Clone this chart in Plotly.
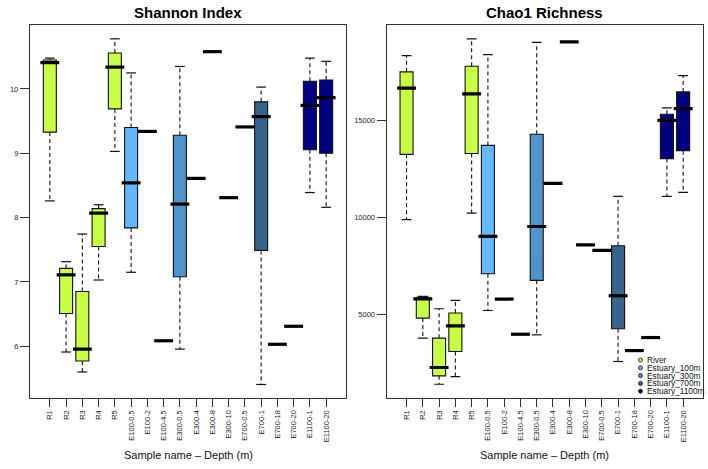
import plotly.graph_objects as go

# ---------------- data ----------------
samples = ["R1", "R2", "R3", "R4", "R5",
           "E100-0.5", "E100-2", "E100-4.5",
           "E300-0.5", "E300-4", "E300-8", "E300-10",
           "E700-0.5", "E700-1", "E700-18", "E700-20",
           "E1100-1", "E1100-20"]
groups = ["River"] * 5 + ["Estuary_100m"] * 3 + ["Estuary_300m"] * 4 + \
         ["Estuary_700m"] * 4 + ["Estuary_1100m"] * 2

group_names = ["River", "Estuary_100m", "Estuary_300m", "Estuary_700m", "Estuary_1100m"]
group_colors = ["#C8FF44", "#63B8FF", "#4F94CD", "#36648B", "#000080"]

# Shannon index: lower whisker, Q1, median, Q3, upper whisker
sh_low = [8.26, 5.91, 5.60, 7.03, 9.03, 7.15, 9.34, 6.085, 5.955, 8.61, 10.58, 8.31,
          9.41, 5.405, 6.03, 6.31, 8.39, 8.16]
sh_q1 = [9.33, 6.51, 5.77, 7.55, 9.69, 7.84, 9.34, 6.085, 7.08, 8.61, 10.58, 8.31,
         9.41, 7.49, 6.03, 6.31, 9.055, 9.00]
sh_med = [10.41, 7.11, 5.955, 8.07, 10.34, 8.54, 9.34, 6.085, 8.21, 8.61, 10.58, 8.31,
          9.41, 9.57, 6.03, 6.31, 9.745, 9.865]
sh_q3 = [10.45, 7.21, 6.85, 8.14, 10.56, 9.40, 9.34, 6.085, 9.28, 8.61, 10.58, 8.31,
         9.41, 9.80, 6.03, 6.31, 10.12, 10.14]
sh_up = [10.48, 7.315, 7.745, 8.20, 10.78, 10.25, 9.34, 6.085, 10.35, 8.61, 10.58, 8.31,
         9.41, 10.03, 6.03, 6.31, 10.48, 10.43]

# Chao1 richness
ch_low = [9890, 3800, 1430, 1820, 10230, 5220, 5810, 4000, 3970, 11760, 19035, 8590,
          8310, 2600, 3160, 3830, 11090, 11290]
ch_q1 = [13250, 4830, 1860, 3110, 13290, 7110, 5810, 4000, 6770, 11760, 19035, 8590,
         8310, 4280, 3160, 3830, 13030, 13440]
ch_med = [16650, 5820, 2290, 4430, 16360, 9030, 5810, 4000, 9540, 11760, 19035, 8590,
          8310, 5980, 3160, 3830, 15000, 15600]
ch_q3 = [17490, 5900, 3800, 5090, 17780, 13710, 5810, 4000, 14280, 11760, 19035, 8590,
         8310, 8550, 3160, 3830, 15310, 16460]
ch_up = [18330, 5950, 5310, 5740, 19190, 18380, 5810, 4000, 19010, 11760, 19035, 8590,
         8310, 11090, 3160, 3830, 15640, 17300]

sh_ticks = [6, 7, 8, 9, 10]
sh_ticktext = ["6", "7", "8", "9", "10"]
ch_ticks = [5000, 10000, 15000]
ch_ticktext = ["5000", "10000", "15000"]

# ---------------- layout geometry ----------------
W, H = 708, 469
ML, MR, MT, MB = 30, 5, 25, 71
PW = W - ML - MR
PH = H - MT - MB


def fx(px):
    return (px - ML) / PW


def fy(py):
    return (H - MB - py) / PH


dom1 = [0, fx(346)]
dom2 = [fx(386.7), 1]

fig = go.Figure()

FONT = "Liberation Sans, Arial, Helvetica, sans-serif"
LINE = "#111111"


def add_panel(low, q1, med, q3, up, xa, ya):
    # dashed whiskers
    wx, wy = [], []
    for s, lo, a, b, hi in zip(samples, low, q1, q3, up):
        if hi > b:
            wx += [s, s, None]
            wy += [b, hi, None]
        if lo < a:
            wx += [s, s, None]
            wy += [a, lo, None]
    fig.add_trace(go.Scatter(x=wx, y=wy, mode="lines", xaxis=xa, yaxis=ya,
                             line=dict(color=LINE, width=1.1, dash="4px,3px"),
                             hoverinfo="skip", showlegend=False))
    # staples
    sx, sy = [], []
    for s, lo, a, b, hi in zip(samples, low, q1, q3, up):
        if hi > b:
            sx.append(s); sy.append(hi)
        if lo < a:
            sx.append(s); sy.append(lo)
    fig.add_trace(go.Scatter(x=sx, y=sy, mode="markers", xaxis=xa, yaxis=ya,
                             marker=dict(symbol="line-ew", size=7,
                                         line=dict(color=LINE, width=1.2)),
                             hoverinfo="skip", showlegend=False))
    # boxes per group
    for g, c in zip(group_names, group_colors):
        idx = [i for i, gg in enumerate(groups) if gg == g]
        fig.add_trace(go.Box(
            x=[samples[i] for i in idx],
            q1=[q1[i] for i in idx], median=[med[i] for i in idx],
            q3=[q3[i] for i in idx],
            lowerfence=[q1[i] for i in idx], upperfence=[q3[i] for i in idx],
            xaxis=xa, yaxis=ya, width=0.8, fillcolor=c,
            line=dict(color=LINE, width=1.1), whiskerwidth=0,
            boxpoints=False, hoverinfo="skip", showlegend=False, name=g))
    # thick medians
    fig.add_trace(go.Scatter(x=samples, y=med, mode="markers", xaxis=xa, yaxis=ya,
                             marker=dict(symbol="line-ew", size=13.5,
                                         line=dict(color="#000000", width=3.2)),
                             hoverinfo="skip", showlegend=False))


add_panel(sh_low, sh_q1, sh_med, sh_q3, sh_up, "x", "y")
add_panel(ch_low, ch_q1, ch_med, ch_q3, ch_up, "x2", "y2")

n = len(samples)
xcommon = dict(type="category", categoryorder="array", categoryarray=samples,
               range=[-1.22, n - 1 + 1.22],
               showline=True, mirror=True, linecolor="#333333", linewidth=1.2,
               ticks="outside", ticklen=8, tickcolor="#333333", tickwidth=1,
               tickangle=-90, tickfont=dict(family=FONT, size=7.5, color="#222222"),
               showgrid=False, zeroline=False, fixedrange=True, automargin=False)
ycommon = dict(showline=True, mirror=True, linecolor="#333333", linewidth=1.2,
               ticks="outside", ticklen=9, tickcolor="#333333", tickwidth=1,
               tickfont=dict(family=FONT, size=7.5, color="#222222"),
               showgrid=False, zeroline=False, fixedrange=True, automargin=False)

fig.update_layout(
    width=W, height=H,
    margin=dict(l=ML, r=MR, t=MT, b=MB, pad=0),
    paper_bgcolor="white", plot_bgcolor="white",
    boxmode="overlay", showlegend=False,
    font=dict(family=FONT, color="#111111"),
    xaxis=dict(domain=dom1, anchor="y", **xcommon),
    xaxis2=dict(domain=dom2, anchor="y2", **xcommon),
    yaxis=dict(domain=[0, 1], anchor="x", range=[5.195, 10.995],
               tickvals=sh_ticks, ticktext=sh_ticktext, **ycommon),
    yaxis2=dict(domain=[0, 1], anchor="x2", range=[722, 19900],
                tickvals=ch_ticks, ticktext=ch_ticktext, **ycommon),
)

ann = []
ann.append(dict(text="<b>Shannon Index</b>", x=(dom1[0] + dom1[1]) / 2, y=fy(12.5),
                xref="paper", yref="paper", showarrow=False, xanchor="center",
                yanchor="middle", font=dict(family=FONT, size=15, color="#000000")))
ann.append(dict(text="<b>Chao1 Richness</b>", x=(dom2[0] + dom2[1]) / 2, y=fy(12.5),
                xref="paper", yref="paper", showarrow=False, xanchor="center",
                yanchor="middle", font=dict(family=FONT, size=15, color="#000000")))
for d in (dom1, dom2):
    ann.append(dict(text="Sample name – Depth (m)", x=(d[0] + d[1]) / 2, y=fy(455),
                    xref="paper", yref="paper", showarrow=False, xanchor="center",
                    yanchor="middle", font=dict(family=FONT, size=11, color="#111111")))

leg_y = [360, 367.8, 375.6, 383.4, 391.2]
shapes = []
for g, c, ly in zip(group_names, group_colors, leg_y):
    ann.append(dict(text=g, x=fx(645.5), y=fy(ly), xref="paper", yref="paper",
                    showarrow=False, xanchor="left", yanchor="middle",
                    borderpad=0, font=dict(family=FONT, size=8.3, color="#111111")))
    shapes.append(dict(type="circle", xref="paper", yref="paper",
                       xsizemode="pixel", ysizemode="pixel",
                       xanchor=fx(640.5), yanchor=fy(ly),
                       x0=-2, x1=2, y0=-2, y1=2,
                       fillcolor=c, line=dict(color="#333333", width=1)))

fig.update_layout(annotations=ann, shapes=shapes)

fig.write_html("out.html",
               config={"displayModeBar": False, "staticPlot": True},
               post_script="document.body.style.margin='0px';"
                           "document.body.style.overflow='hidden';")
